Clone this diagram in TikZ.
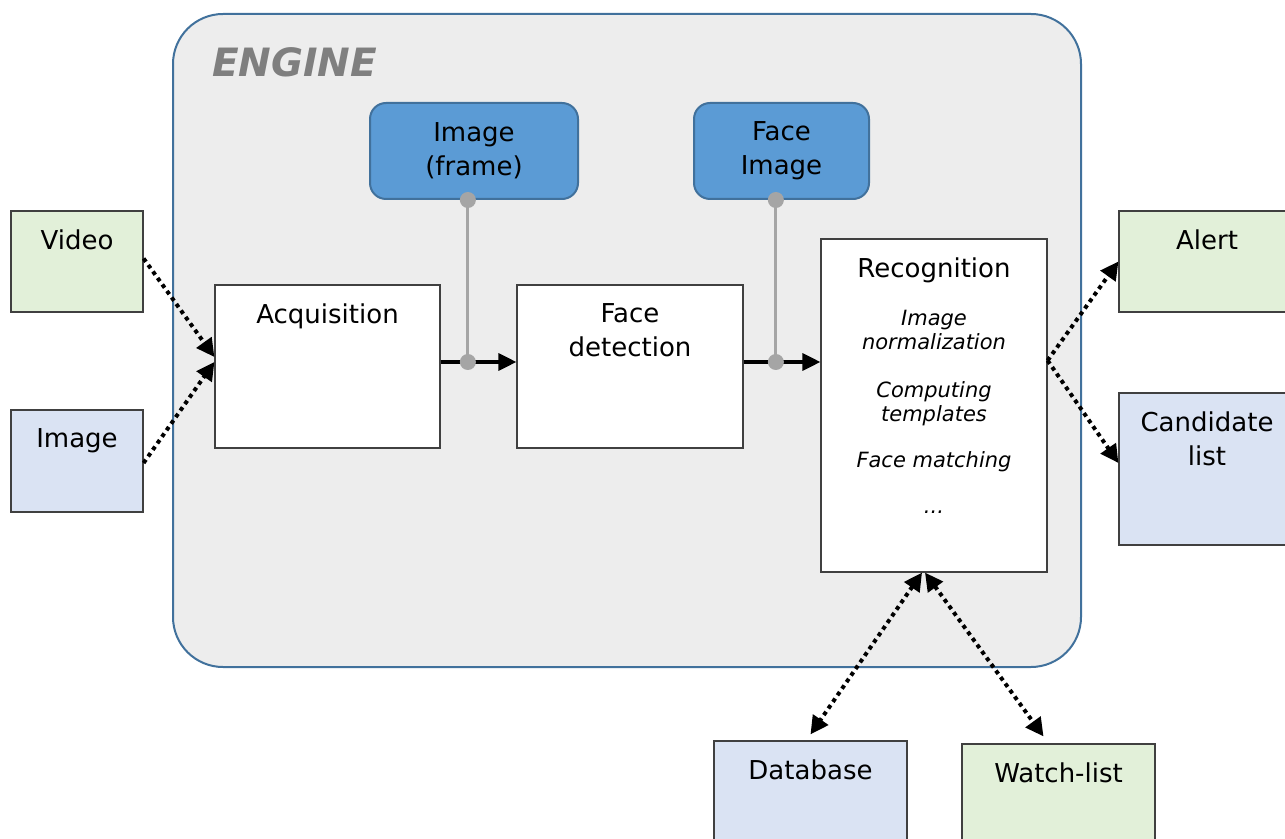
\documentclass[tikz,border=0pt]{standalone}
\usepackage{fontspec}
\setmainfont{DejaVu Sans}
\usetikzlibrary{arrows.meta}
\definecolor{enginefill}{HTML}{EDEDED}
\definecolor{engineline}{HTML}{41719C}
\definecolor{datafill}{HTML}{5B9BD5}
\definecolor{bluefill}{HTML}{DAE3F3}
\definecolor{greenfill}{HTML}{E2F0D9}
\definecolor{tapgray}{HTML}{A5A5A5}
\definecolor{titlegray}{HTML}{7F7F7F}

\begin{document}
\begin{tikzpicture}[x=0.5pt, y=-0.5pt,
    font=\fontsize{13}{17}\selectfont,
    box/.style={draw=black!75, line width=0.6pt, inner sep=0pt},
    stage/.style={box, fill=white},
    data/.style={draw=engineline, line width=1pt, fill=datafill, rounded corners=8pt,
        align=center, minimum height=48pt},
    head/.style={anchor=north, align=center, inner sep=0pt, yshift=-9.5pt},
    flow/.style={line width=1.6pt, -{Triangle[length=9pt,width=8.5pt]}},
    signal/.style={line width=2pt, dash pattern=on 2pt off 2pt,
        -{Triangle[length=9pt,width=9pt]}},
    tap/.style={draw=tapgray, line width=1.6pt}]
    \useasboundingbox (0,0) rectangle (1285,839);

    % engine frame
    \draw[fill=enginefill, draw=engineline, line width=1pt, rounded corners=25pt]
        (173,14) rectangle (1081,667);
    \node[anchor=west, text=titlegray, font=\fontsize{19.5}{22}\selectfont\bfseries\itshape]
        (enginetitle) at (205,62) {ENGINE};

    % inputs
    \node[box, fill=greenfill, minimum width=66pt, minimum height=50.5pt] (video) at (77,261.5) {};
    \node[head] (videotxt) at (video.north) {Video};
    \node[box, fill=bluefill, minimum width=66pt, minimum height=51pt] (picture) at (77,461) {};
    \node[head] (picturetxt) at (picture.north) {Image};

    % processing stages
    \node[stage, minimum width=112.5pt, minimum height=81.5pt] (acq) at (327.5,366.5) {};
    \node[head] (acqtxt) at (acq.north) {Acquisition};
    \node[stage, minimum width=113pt, minimum height=81.5pt] (detect) at (630,366.5) {};
    \node[head] (detecttxt) at (detect.north) {Face\\detection};
    \node[stage, minimum width=113pt, minimum height=166.5pt] (recog) at (934,405.5) {};
    \node[head] (recogtxt) at (recog.north) {Recognition};
    \node[anchor=north, align=center, inner sep=0pt, yshift=-35.5pt,
          font=\fontsize{10.5}{12}\selectfont\itshape] (recogsteps) at (recog.north)
        {Image\\normalization\\[12pt]Computing\\templates\\[11pt]Face matching\\[11pt]...};

    % intermediate data
    \node[data, minimum width=104pt] (frame) at (474,151) {Image\\(frame)};
    \node[data, minimum width=87.5pt] (faceimg) at (781.5,151) {Face\\Image};

    % outputs
    \node[box, fill=greenfill, minimum width=88pt, minimum height=50.5pt] (alert) at (1207,261.5) {};
    \node[head] (alerttxt) at (alert.north) {Alert};
    \node[box, fill=bluefill, minimum width=88pt, minimum height=76pt] (cand) at (1207,469) {};
    \node[head] (candtxt) at (cand.north) {Candidate\\list};
    \node[box, fill=bluefill, minimum width=96.5pt, minimum height=70pt] (db) at (810.5,811) {};
    \node[head] (dbtxt) at (db.north) {Database};
    \node[box, fill=greenfill, minimum width=96.5pt, minimum height=70pt] (watch) at (1058.5,814) {};
    \node[head] (watchtxt) at (watch.north) {Watch-list};

    % main flow
    \draw[flow] ([yshift=2.25pt]acq.east) -- ([yshift=2.25pt]detect.west)
        coordinate[pos=0.36] (tapa);
    \draw[flow] ([yshift=2.25pt]detect.east) -- ([yshift=2.25pt]recog.west |- detect.east)
        coordinate[pos=0.42] (tapb);
    \draw[tap] (frame.south -| tapa) -- (tapa);
    \draw[tap] (faceimg.south -| tapb) -- (tapb);
    \foreach \p in {tapa, tapb}
    {
        \fill[tapgray] (\p) circle (4pt);
        \fill[tapgray] (frame.south -| \p) circle (4pt);
    }

    % signals in and out
    \draw[signal] ([yshift=1.5pt]video.east) -- ([yshift=4.75pt]acq.west);
    \draw[signal] ([yshift=-1pt]picture.east) -- ([yshift=2.25pt]acq.west);
    \draw[signal] ([yshift=22.5pt]recog.east) -- (alert.west);
    \draw[signal] ([yshift=22.5pt]recog.east) -- ([yshift=3pt]cand.west);
    \draw[signal, {Triangle[length=9pt,width=9pt]}-{Triangle[length=9pt,width=9pt]}]
        ([xshift=-6pt]recog.south) -- ([yshift=3pt]db.north);
    \draw[signal, {Triangle[length=9pt,width=9pt]}-{Triangle[length=9pt,width=9pt]}]
        ([xshift=-4.5pt]recog.south) -- ([xshift=-7.5pt,yshift=3.5pt]watch.north);
\end{tikzpicture}
\end{document}
